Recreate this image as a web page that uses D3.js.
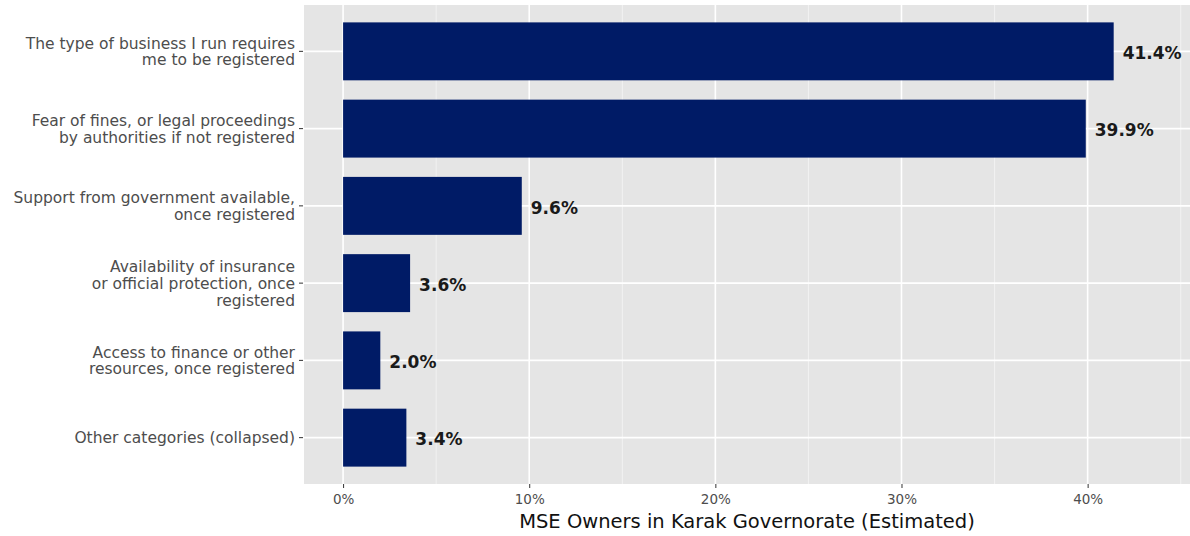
<!DOCTYPE html>
<html><head><meta charset="utf-8">
<script src="https://cdn.jsdelivr.net/npm/d3@7"></script>
<style>body{margin:0;background:#fff}svg{display:block}</style>
</head><body>
<svg id="c" width="1190" height="536"></svg>
<script>
const categories = [
  ["The type of business I run requires", "me to be registered"],
  ["Fear of fines, or legal proceedings", "by authorities if not registered"],
  ["Support from government available,", "once registered"],
  ["Availability of insurance", "or official protection, once", "registered"],
  ["Access to finance or other", "resources, once registered"],
  ["Other categories (collapsed)"]
];
const values = [41.4, 39.9, 9.6, 3.6, 2.0, 3.4];
const valueLabels = ["41.4%", "39.9%", "9.6%", "3.6%", "2.0%", "3.4%"];
const xTicks = [0, 10, 20, 30, 40];
const xTitle = "MSE Owners in Karak Governorate (Estimated)";

const svg = d3.select("#c");
const panel = {left: 304, right: 1190, top: 5, bottom: 484};
const font = "'DejaVu Sans', sans-serif";

const x = d3.scaleLinear().domain([-2.1, 45.5]).range([panel.left, panel.right]);
const ids = categories.map((d, i) => i);
const y = d3.scaleBand().domain(ids).range([panel.top, panel.bottom]).paddingInner(0.25).paddingOuter(0.225);
const yc = i => y(i) + y.bandwidth() / 2;

svg.append("rect").attr("x", panel.left).attr("y", panel.top)
  .attr("width", panel.right - panel.left).attr("height", panel.bottom - panel.top)
  .attr("fill", "#e5e5e5");

const minor = [5, 15, 25, 35, 45];
svg.selectAll(".mg").data(minor).enter().append("line")
  .attr("x1", d => x(d)).attr("x2", d => x(d))
  .attr("y1", panel.top).attr("y2", panel.bottom)
  .attr("stroke", "#f2f2f2").attr("stroke-width", 1);
svg.selectAll(".xg").data(xTicks).enter().append("line")
  .attr("x1", d => x(d)).attr("x2", d => x(d))
  .attr("y1", panel.top).attr("y2", panel.bottom)
  .attr("stroke", "#fff").attr("stroke-width", 1.6);
svg.selectAll(".yg").data(ids).enter().append("line")
  .attr("x1", panel.left).attr("x2", panel.right)
  .attr("y1", d => yc(d)).attr("y2", d => yc(d))
  .attr("stroke", "#fff").attr("stroke-width", 1.6);

svg.selectAll(".bar").data(values).enter().append("rect")
  .attr("x", x(0)).attr("y", (d, i) => y(i))
  .attr("width", d => x(d) - x(0)).attr("height", y.bandwidth())
  .attr("fill", "#001b66");

svg.selectAll(".vl").data(values).enter().append("text")
  .attr("x", d => x(d) + 9).attr("y", (d, i) => yc(i))
  .attr("dy", "0.45em")
  .attr("font-family", font).attr("font-size", 17).attr("font-weight", "bold")
  .attr("fill", "#1a1a1a")
  .text((d, i) => valueLabels[i]);

const xAxis = d3.axisBottom(x).tickValues(xTicks).tickFormat(d => d + "%").tickSize(4).tickPadding(6);
const gx = svg.append("g").attr("transform", `translate(0,${panel.bottom})`).call(xAxis);
gx.select(".domain").remove();
gx.selectAll(".tick line").attr("stroke", "#333").attr("stroke-width", 1);
gx.selectAll(".tick text").attr("font-family", font).attr("font-size", 13.5).attr("fill", "#4d4d4d");

svg.selectAll(".yt").data(ids).enter().append("line")
  .attr("x1", panel.left - 5).attr("x2", panel.left - 1)
  .attr("y1", d => yc(d)).attr("y2", d => yc(d))
  .attr("stroke", "#333").attr("stroke-width", 1);

const lh = 16.8;
categories.forEach((lines, i) => {
  const t = svg.append("text")
    .attr("x", 295).attr("y", yc(i) - (lines.length - 1) * lh / 2)
    .attr("text-anchor", "end")
    .attr("font-family", font).attr("font-size", 15.5).attr("fill", "#4d4d4d");
  lines.forEach((l, j) => {
    t.append("tspan").attr("x", 295).attr("dy", j === 0 ? "0.36em" : lh).text(l);
  });
});

svg.append("text").attr("x", (panel.left + panel.right) / 2).attr("y", 528)
  .attr("text-anchor", "middle").attr("font-family", font).attr("font-size", 19.5)
  .attr("fill", "#111").text(xTitle);
</script>
</body></html>
